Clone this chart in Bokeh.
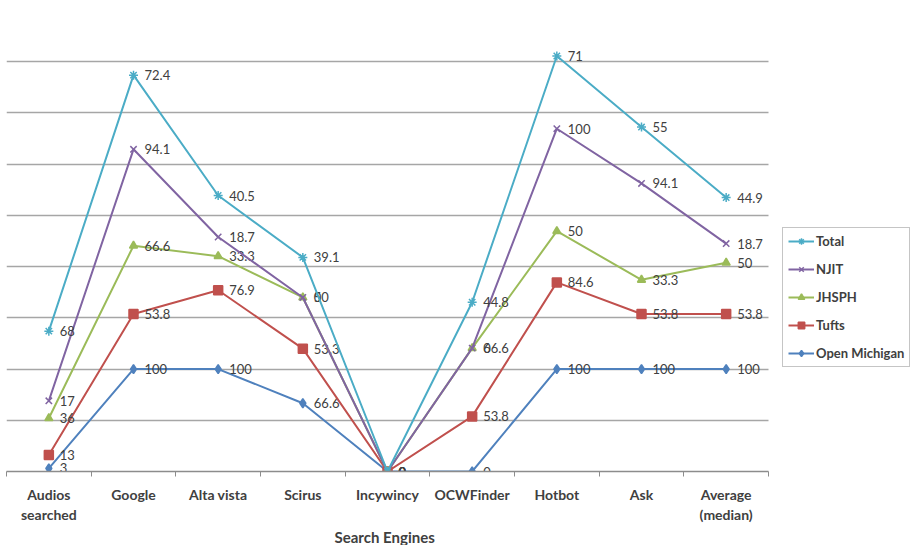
import numpy as np
from bokeh.plotting import figure
from bokeh.models import ColumnDataSource, FixedTicker, Legend, LegendItem, Range1d, Title
from bokeh.core.properties import value
from bokeh.embed import file_html
from bokeh.resources import INLINE

categories = ["Audios\nsearched", "Google", "Alta vista", "Scirus", "Incywincy",
              "OCWFinder", "Hotbot", "Ask", "Average\n(median)"]
open_michigan = [3, 100, 100, 66.6, 0, 0, 100, 100, 100]
tufts = [13, 53.8, 76.9, 53.3, 0, 53.8, 84.6, 53.8, 53.8]
jhsph = [36, 66.6, 33.3, 50, 0, 66.6, 50, 33.3, 50]
njit = [17, 94.1, 18.7, 0, 0, 0, 100, 94.1, 18.7]
total = [68, 72.4, 40.5, 39.1, 0, 44.8, 71, 55, 44.9]

series = [
    ("Open Michigan", open_michigan, "#4F81BD", "diamond", 9),
    ("Tufts", tufts, "#C0504D", "square", 9),
    ("JHSPH", jhsph, "#9BBB59", "triangle", 8),
    ("NJIT", njit, "#8064A2", "x", 9),
    ("Total", total, "#4BACC6", "asterisk", 9),
]

FONT = "Lato"
N = len(categories)
xs = np.arange(N) + 0.5

# plot area spans 762 px for the categories; the frame extends to the window edge
FRAME_W = 906
CAT_W = 762
x_end = N * FRAME_W / CAT_W

p = figure(width=912, height=545, output_backend="svg", toolbar_location=None,
           x_range=Range1d(0, x_end), y_range=Range1d(0, 450),
           min_border_left=6, min_border_right=0, min_border_top=10, min_border_bottom=73)
p.outline_line_color = None
p.background_fill_color = "white"
p.border_fill_color = "white"

p.yaxis.visible = False
p.ygrid.ticker = FixedTicker(ticks=list(range(0, 451, 50)))
p.ygrid.grid_line_color = "#A6A6A6"
p.ygrid.grid_line_width = 1.5
p.ygrid.cross_bounds = (0, N)
p.xgrid.visible = False

xa = p.xaxis[0]
xa.bounds = (0, N)
xa.ticker = FixedTicker(ticks=list(xs), minor_ticks=list(range(N + 1)))
xa.major_label_overrides = {float(x): c for x, c in zip(xs, categories)}
xa.major_tick_line_color = None
xa.major_tick_out = 0
xa.major_tick_in = 0
xa.minor_tick_line_color = "#8C8C8C"
xa.minor_tick_out = 5
xa.minor_tick_in = 0
xa.axis_line_color = "#8C8C8C"
xa.axis_line_width = 1.5
xa.major_label_text_font = FONT
xa.major_label_text_font_style = "bold"
xa.major_label_text_font_size = "14px"
xa.major_label_text_color = "#404040"
xa.major_label_standoff = 9

title = Title(text="Search Engines", align="left", offset=328,
              text_font=FONT, text_font_style="bold", text_font_size="15px",
              text_color="#404040", standoff=0)
p.add_layout(title, "below")

cum = np.zeros(N)
items = []
for name, vals, color, marker, size in series:
    cum = cum + np.array(vals, dtype=float)
    src = ColumnDataSource(dict(x=xs, y=cum.copy(), lab=[f"{v:g}" for v in vals]))
    r = p.line("x", "y", source=src, line_color=color, line_width=2)
    s = p.scatter("x", "y", source=src, marker=marker, size=size,
                  fill_color=color, line_color=color, line_width=1.5)
    p.text("x", "y", text="lab", source=src, x_offset=11, text_baseline="middle",
           text_font=value(FONT), text_font_size="13px", text_color="#404040")
    items.append(LegendItem(label=name, renderers=[r, s]))

legend = Legend(items=list(reversed(items)), location=(776, 104))
legend.label_text_font = FONT
legend.label_text_font_style = "bold"
legend.label_text_font_size = "13px"
legend.label_text_color = "#404040"
legend.glyph_width = 26
legend.glyph_height = 16
legend.label_height = 16
legend.spacing = 12
legend.padding = 5
legend.margin = 0
legend.label_standoff = 2
legend.border_line_color = "#8C8C8C"
legend.background_fill_alpha = 1
p.add_layout(legend, "center")

open("out.html", "w").write(file_html(p, INLINE))
